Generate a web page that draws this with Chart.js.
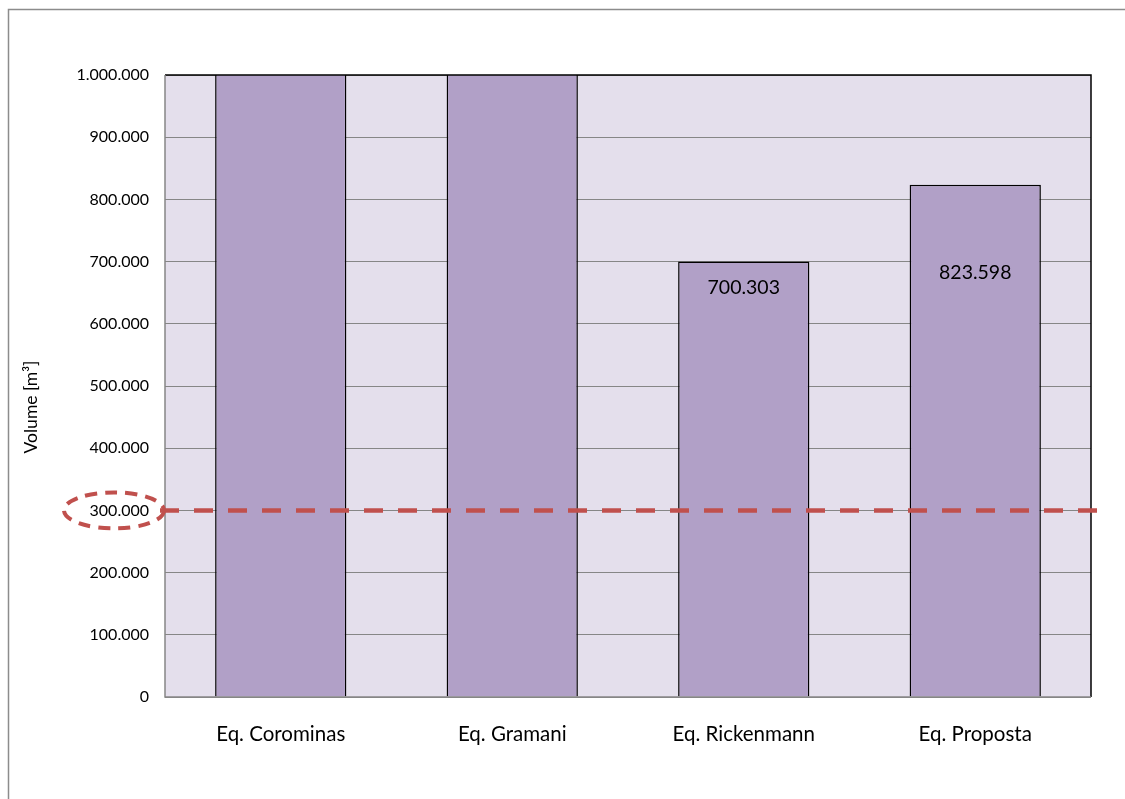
<!DOCTYPE html>
<html>
<head>
<meta charset="utf-8">
<script src="https://cdn.jsdelivr.net/npm/chart.js@4.4.1/dist/chart.umd.min.js"></script>
<style>
  html, body { margin: 0; padding: 0; background: #ffffff; }
  #wrap { width: 1125px; height: 799px; position: relative; }
</style>
</head>
<body>
<div id="wrap"><canvas id="chart" width="1125" height="799"></canvas></div>
<script>
// Estimated debris-flow volumes per equation (m³)
const categories = ['Eq. Corominas', 'Eq. Gramani', 'Eq. Rickenmann', 'Eq. Proposta'];
const volumes = [1350000, 1200000, 700303, 823598];
// Which bars carry a value label
const showLabel = [false, false, true, true];
// Reference volume marked by the dashed line
const referenceVolume = 300000;
const yTicks = [0, 100000, 200000, 300000, 400000, 500000, 600000, 700000, 800000, 900000, 1000000];
const yTitle = 'Volume [m³]';

// Vertical distance (px) from bar top to the label centre
const labelDrop = [0, 0, 26, 88];

const FONT = 'Lato, "Open Sans", sans-serif';
const RED = '#c0504d';

function fmt(v) {
  return Math.round(v).toString().replace(/\B(?=(\d{3})+(?!\d))/g, '.');
}

const decorations = {
  id: 'decorations',
  beforeDraw(chart) {
    const { ctx, chartArea: a } = chart;
    ctx.save();
    ctx.fillStyle = '#ffffff';
    ctx.fillRect(0, 0, chart.width, chart.height);
    // outer frame
    ctx.strokeStyle = '#8c8c8c';
    ctx.lineWidth = 1.5;
    ctx.strokeRect(8.5, 9.5, chart.width + 20, chart.height + 20);
    // plot background
    ctx.fillStyle = '#e4dfec';
    ctx.fillRect(a.left, a.top, a.right - a.left, a.bottom - a.top);
    ctx.restore();
  },
  afterDraw(chart) {
    const { ctx } = chart;
    // rotated y-axis title
    ctx.save();
    ctx.translate(31, 407);
    ctx.rotate(-Math.PI / 2);
    ctx.fillStyle = '#000000';
    ctx.font = '17.5px ' + FONT;
    ctx.textAlign = 'center';
    ctx.textBaseline = 'middle';
    ctx.fillText(yTitle, 0, 0);
    ctx.restore();
  },
  afterDatasetsDraw(chart) {
    const { ctx, chartArea: a } = chart;
    const y = chart.scales.y;
    ctx.save();
    // plot frame: black on top and right, grey axes left and bottom
    ctx.lineWidth = 1.5;
    ctx.strokeStyle = '#000000';
    ctx.beginPath();
    ctx.moveTo(a.left, a.top);
    ctx.lineTo(a.right, a.top);
    ctx.lineTo(a.right, a.bottom);
    ctx.stroke();
    ctx.strokeStyle = '#868686';
    ctx.beginPath();
    ctx.moveTo(a.left, a.top);
    ctx.lineTo(a.left, a.bottom);
    ctx.lineTo(a.right, a.bottom);
    ctx.stroke();

    // value labels
    const meta = chart.getDatasetMeta(0);
    ctx.fillStyle = '#000000';
    ctx.font = '19.5px ' + FONT;
    ctx.textAlign = 'center';
    ctx.textBaseline = 'middle';
    meta.data.forEach((bar, i) => {
      if (!showLabel[i]) return;
      ctx.fillText(fmt(volumes[i]), bar.x, bar.y + labelDrop[i]);
    });

    // dashed reference line
    const ry = y.getPixelForValue(referenceVolume);
    ctx.strokeStyle = RED;
    ctx.lineWidth = 4.5;
    ctx.setLineDash([19, 15]);
    ctx.beginPath();
    ctx.moveTo(a.left - 5, ry);
    ctx.lineTo(a.right + 6, ry);
    ctx.stroke();

    // dashed ellipse around the reference tick label
    ctx.lineWidth = 4;
    ctx.setLineDash([12, 8]);
    ctx.beginPath();
    ctx.ellipse(a.left - 51, ry, 50, 18, 0, 0, Math.PI * 2);
    ctx.stroke();
    ctx.restore();
  }
};

new Chart(document.getElementById('chart'), {
  type: 'bar',
  data: {
    labels: categories,
    datasets: [{
      data: volumes,
      backgroundColor: '#b1a0c7',
      borderColor: '#000000',
      borderWidth: 1.5,
      borderSkipped: 'bottom',
      barPercentage: 0.567,
      categoryPercentage: 1.0
    }]
  },
  options: {
    responsive: false,
    animation: false,
    devicePixelRatio: 1,
    layout: { padding: { top: 75, right: 34, bottom: 0, left: 0 } },
    plugins: { legend: { display: false }, tooltip: { enabled: false } },
    scales: {
      x: {
        grid: { display: false, drawTicks: false },
        border: { display: false },
        ticks: { color: '#000000', font: { family: FONT, size: 20.5 }, padding: 25 },
        afterFit(s) { s.height = 102; }
      },
      y: {
        min: 0,
        max: 1000000,
        afterBuildTicks(s) { s.ticks = yTicks.map(v => ({ value: v })); },
        grid: { color: '#868686', lineWidth: 1, drawTicks: false },
        border: { display: false },
        ticks: {
          color: '#000000',
          font: { family: FONT, size: 16 },
          padding: 16,
          callback: v => fmt(v)
        },
        afterFit(s) { s.width = 165; }
      }
    }
  },
  plugins: [decorations]
});
</script>
</body>
</html>
